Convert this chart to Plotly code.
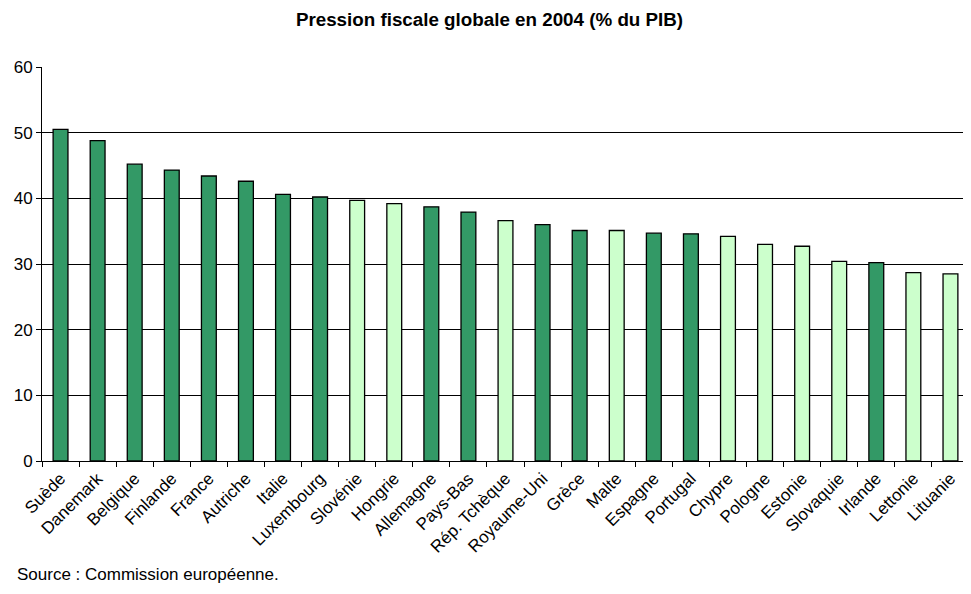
import plotly.graph_objects as go

countries = ["Suède", "Danemark", "Belgique", "Finlande", "France", "Autriche", "Italie",
             "Luxembourg", "Slovénie", "Hongrie", "Allemagne", "Pays-Bas", "Rép. Tchèque",
             "Royaume-Uni", "Grèce", "Malte", "Espagne", "Portugal", "Chypre", "Pologne",
             "Estonie", "Slovaquie", "Irlande", "Lettonie", "Lituanie"]
values = [50.5, 48.8, 45.2, 44.3, 43.4, 42.6, 40.6, 40.2, 39.7, 39.2, 38.7, 37.9, 36.6,
          36.0, 35.1, 35.1, 34.7, 34.6, 34.2, 33.0, 32.7, 30.4, 30.2, 28.7, 28.5]
# groupe: "UE15" (vert foncé) ou "NM" (nouveaux membres, vert clair)
groups = ["UE15"] * 8 + ["NM", "NM", "UE15", "UE15", "NM", "UE15", "UE15", "NM",
                         "UE15", "UE15", "NM", "NM", "NM", "NM", "UE15", "NM", "NM"]

color_map = {"UE15": "#339966", "NM": "#CCFFCC"}
colors = [color_map[g] for g in groups]

fig = go.Figure()
fig.add_trace(go.Bar(
    x=countries, y=values,
    marker=dict(color=colors, line=dict(color="black", width=1.3)),
    width=0.4,
    showlegend=False,
))

fig.update_layout(
    width=963, height=586,
    paper_bgcolor="white", plot_bgcolor="white",
    margin=dict(l=34, r=2, t=59, b=133, autoexpand=False),
    font=dict(family="Liberation Sans, Arial, sans-serif", size=17, color="black"),
    title=dict(text="<b>Pression fiscale globale en 2004 (% du PIB)</b>",
               x=0.5, xanchor="center", y=0.98, yanchor="middle",
               font=dict(size=18.8, color="black")),
    xaxis=dict(
        tickangle=-45, showline=True, linecolor="black", linewidth=1,
        ticks="outside", tickson="boundaries", ticklen=5, tickcolor="black",
        showgrid=False, tickfont=dict(size=17), automargin=False,
    ),
    yaxis=dict(
        range=[0, 60], dtick=10, showline=True, linecolor="black", linewidth=1,
        ticks="outside", ticklen=5, tickcolor="black",
        showgrid=True, gridcolor="black", gridwidth=1, zeroline=False,
        tickfont=dict(size=17), automargin=False,
    ),
    annotations=[dict(text="Source : Commission européenne.", xref="paper", yref="paper",
                      x=-0.029, y=-0.289, xanchor="left", yanchor="middle",
                      showarrow=False, font=dict(size=17))],
)

fig.write_html("out.html")
